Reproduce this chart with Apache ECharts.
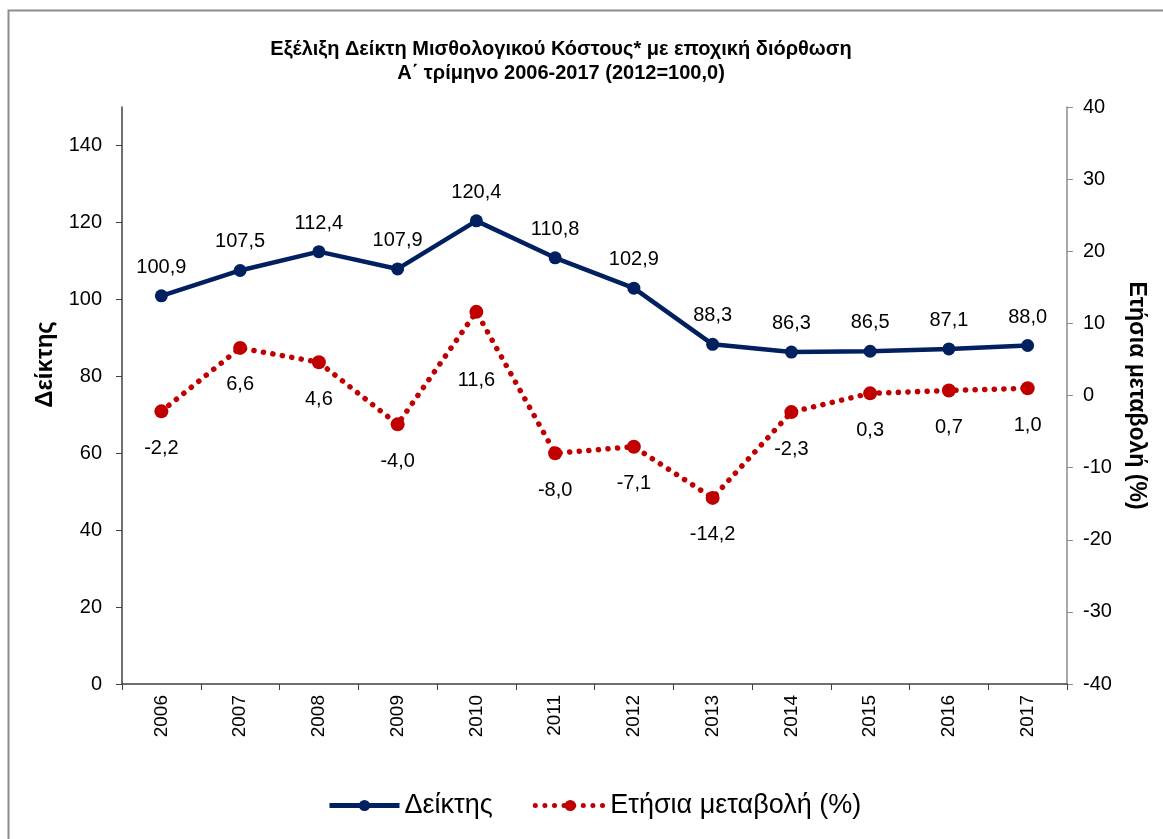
<!DOCTYPE html>
<html>
<head>
<meta charset="utf-8">
<script src="https://cdn.jsdelivr.net/npm/echarts@6/dist/echarts.min.js"></script>
<style>
  html, body { margin: 0; padding: 0; background: #fff; }
  #chart { width: 1163px; height: 839px; }
</style>
</head>
<body>
<div id="chart"></div>
<script>
  // δεδομένα
  var years = ['2006','2007','2008','2009','2010','2011','2012','2013','2014','2015','2016','2017'];
  var indexValues = [100.9, 107.5, 112.4, 107.9, 120.4, 110.8, 102.9, 88.3, 86.3, 86.5, 87.1, 88.0];
  var changeValues = [-2.2, 6.6, 4.6, -4.0, 11.6, -8.0, -7.1, -14.2, -2.3, 0.3, 0.7, 1.0];
  var leftTicks = [0, 20, 40, 60, 80, 100, 120, 140];

  var fmt = function (v) { return v.toFixed(1).replace('.', ','); };

  var myChart = echarts.init(document.getElementById('chart'));
  var font = 'Liberation Sans, Arial, sans-serif';
  var navy = '#002060', red = '#C00000';

  var changeData = changeValues.map(function (v, i) {
    var d = { value: v };
    if (i === 4) d.label = { distance: 52 }; // 11,6 πιο χαμηλά
    return d;
  });

  myChart.setOption({
    animation: false,
    textStyle: { fontFamily: font },
    title: {
      text: 'Εξέλιξη Δείκτη Μισθολογικού Κόστους* με εποχική διόρθωση\nΑ΄ τρίμηνο 2006-2017 (2012=100,0)',
      left: 556, top: 32, textAlign: 'center',
      textStyle: { fontSize: 20, fontWeight: 'bold', color: '#000', lineHeight: 24, fontFamily: font }
    },
    graphic: [{
      type: 'rect', shape: { x: 8.5, y: 10.5, width: 1200, height: 900 },
      style: { fill: 'none', stroke: '#8c8c8c', lineWidth: 2 }, silent: true
    }],
    grid: { left: 122, right: 96, top: 107, bottom: 155 },
    legend: {
      bottom: 15, left: 322, itemGap: 40, itemWidth: 70, itemHeight: 14,
      textStyle: { fontSize: 27, color: '#000', fontFamily: font },
      data: [
        { name: 'Δείκτης', lineStyle: { width: 5 } },
        { name: 'Ετήσια μεταβολή (%)', lineStyle: { width: 5 } }
      ]
    },
    xAxis: {
      type: 'category', data: years, boundaryGap: true,
      axisLine: { lineStyle: { color: '#404040', width: 1.5 } },
      axisTick: { show: true, interval: 0, length: 6, lineStyle: { color: '#404040' } },
      axisLabel: { rotate: 90, interval: 0, fontSize: 19, color: '#000', margin: 11, fontFamily: font }
    },
    yAxis: [{
      type: 'value', min: 0, max: 150, interval: 20, position: 'left',
      name: 'Δείκτης', nameLocation: 'middle', nameGap: 57, nameRotate: 90,
      nameTextStyle: { fontSize: 24, fontWeight: 'bold', color: '#000', fontFamily: font, padding: [0, 0, 0, 62] },
      splitLine: { show: false },
      axisLine: { show: true, lineStyle: { color: '#404040', width: 1.5 } },
      axisTick: { show: true, length: 6, customValues: leftTicks, lineStyle: { color: '#404040' } },
      axisLabel: { customValues: leftTicks, fontSize: 20, color: '#000', margin: 20, fontFamily: font }
    }, {
      type: 'value', min: -40, max: 40, interval: 10, position: 'right',
      name: 'Ετήσια μεταβολή (%)', nameLocation: 'middle', nameGap: 58, nameRotate: -90,
      nameTextStyle: { fontSize: 23, fontWeight: 'bold', color: '#000', fontFamily: font },
      splitLine: { show: false },
      axisLine: { show: true, lineStyle: { color: '#8c8c8c', width: 1.5 } },
      axisTick: { show: true, length: 6, lineStyle: { color: '#8c8c8c' } },
      axisLabel: { fontSize: 20, color: '#000', margin: 16, fontFamily: font }
    }],
    series: [{
      name: 'Δείκτης', type: 'line', yAxisIndex: 0, data: indexValues,
      symbol: 'circle', symbolSize: 13,
      itemStyle: { color: navy },
      lineStyle: { color: navy, width: 4.5 },
      label: { show: true, position: 'top', distance: 12, fontSize: 20, color: '#000', formatter: function (p) { return fmt(p.value); } }
    }, {
      name: 'Ετήσια μεταβολή (%)', type: 'line', yAxisIndex: 1, data: changeData,
      symbol: 'circle', symbolSize: 14,
      itemStyle: { color: red },
      lineStyle: { color: red, width: 5.5, type: [0.1, 9.5], cap: 'round' },
      label: { show: true, position: 'bottom', distance: 20, fontSize: 20, color: '#000', formatter: function (p) { return fmt(p.value); } }
    }]
  });
</script>
</body>
</html>
